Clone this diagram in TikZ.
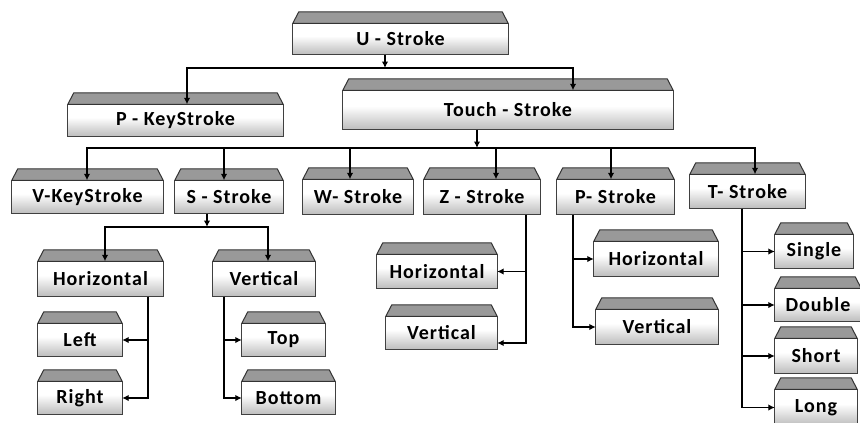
\documentclass[tikz,border=0pt]{standalone}
\usepackage{fontspec}
\newfontfamily\labelfont{Carlito}[LetterSpace=5]
\usetikzlibrary{arrows.meta}
\pgfdeclareverticalshading{boxshade}{100bp}{color(0bp)=(black!45); color(30bp)=(black!22); color(55bp)=(white); color(100bp)=(white)}
\tikzset{
  stroke/.style={inner sep=0pt, shading=boxshade, font=\labelfont\bfseries\fontsize{20}{24}\selectfont},
  rim/.style={draw=black!75, line width=1.2pt},
  trap/.style={fill=black!40, draw=black!80, line width=1pt, line join=round},
  line/.style={line width=1.4pt},
  arr/.style={line, -{Latex[length=6.5pt,width=6.5pt]}}
}
% name, x1, x2, top, bottom, text
\newcommand\strokebox[6]{%
  \node[stroke, minimum width={#3pt-#2pt}, minimum height={#5pt-#4pt}] (#1) at ({(#2+#3)/2},{(#4+#5)/2+1.5}) {#6};
  \draw[trap] (#1.north west) -- ([shift={(6pt,11.5pt)}]#1.north west) -- ([shift={(-6pt,11.5pt)}]#1.north east) -- (#1.north east) -- cycle;
  \draw[rim] (#1.north west) -- (#1.south west) -- (#1.south east) -- (#1.north east);
}
\begin{document}
\begin{tikzpicture}[x=1pt,y=-1pt]
  \useasboundingbox (0,0) rectangle (860,423);
  \strokebox{u}{293}{508}{22}{53}{U - Stroke}
  \strokebox{pkey}{68}{283}{103}{135}{P - KeyStroke}
  \strokebox{touch}{343}{673}{89}{128}{Touch - Stroke}

  \strokebox{vkey}{12}{163}{179}{212}{V-KeyStroke}
  \strokebox{s}{175}{283}{179}{212}{S - Stroke}
  \strokebox{w}{303}{413}{178}{213}{W- Stroke}
  \strokebox{z}{424}{540}{178}{213}{Z - Stroke}
  \strokebox{p}{557}{674}{178}{213}{P- Stroke}
  \strokebox{t}{690}{805}{173}{207}{T- Stroke}

  \strokebox{sh}{38}{163}{260}{295}{Horizontal}
  \strokebox{sv}{213}{315}{260}{295}{Vertical}
  \strokebox{sleft}{38}{122}{322}{355}{Left}
  \strokebox{sright}{38}{122}{380}{413}{Right}
  \strokebox{stop}{242}{325}{322}{355}{Top}
  \strokebox{sbottom}{242}{335}{380}{413}{Bottom}

  \strokebox{zh}{377}{497}{253}{287}{Horizontal}
  \strokebox{zv}{386}{497}{315}{348}{Vertical}
  \strokebox{ph}{594}{718}{240}{275}{Horizontal}
  \strokebox{pv}{596}{718}{308}{343}{Vertical}

  \strokebox{single}{775}{853}{233}{267}{Single}
  \strokebox{double}{775}{861}{287}{320}{Double}
  \strokebox{short}{775}{857}{337}{372}{Short}
  \strokebox{long}{775}{857}{388}{424}{Long}

  \draw[arr] (u.south -| 385,0) -- (385,68);
  \draw[arr] (385,68) -| (pkey.north -| 187,0);
  \draw[arr] (385,68) -| (touch.north -| 573,0);

  \draw[arr] (touch.south -| 477,0) -- (477,148);
  \foreach \n/\x in {vkey/87, s/224, w/350, z/496, p/611, t/755}
    \draw[arr] (477,148) -| (\n.north -| \x,0);

  \draw[arr] (s.south -| 207,0) -- (207,227);
  \draw[arr] (207,227) -| (sh.north -| 105,0);
  \draw[arr] (207,227) -| (sv.north -| 268,0);

  \draw[arr] (sh.south -| 148,0) |- (sleft.east);
  \draw[arr] (sh.south -| 148,0) |- (sright.east);
  \draw[arr] (sv.south -| 224,0) |- (stop.west);
  \draw[arr] (sv.south -| 224,0) |- (sbottom.west);

  \draw[arr] (z.south -| 526,0) |- (zh.east);
  \draw[arr] (z.south -| 526,0) |- ([yshift=-10pt]zv.east);
  \draw[arr] (p.south -| 573,0) |- (ph.west);
  \draw[arr] (p.south -| 573,0) |- (pv.west);

  \foreach \n in {single, double, short, long}
    \draw[arr] (t.south -| 742,0) |- (\n.west);
\end{tikzpicture}
\end{document}
